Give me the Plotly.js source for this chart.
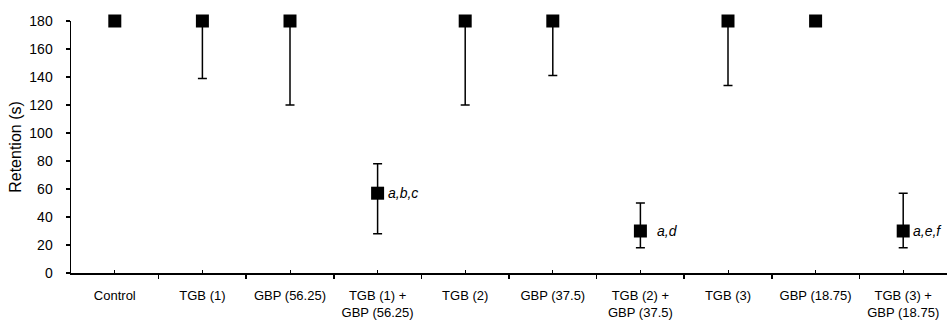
<!DOCTYPE html>
<html>
<head>
<meta charset="utf-8">
<script src="https://cdn.plot.ly/plotly-3.0.1.min.js"></script>
<style>html,body{margin:0;padding:0;background:#fff;}#chart{width:948px;height:322px;}</style>
</head>
<body>
<div id="chart"></div>
<script>
const categories = ["Control", "TGB (1)", "GBP (56.25)", "TGB (1) +<br>GBP (56.25)", "TGB (2)", "GBP (37.5)", "TGB (2) +<br>GBP (37.5)", "TGB (3)", "GBP (18.75)", "TGB (3) +<br>GBP (18.75)"];
const retention = [180, 180, 180, 57, 180, 180, 30, 180, 180, 30];
const errUpper  = [0, 0, 0, 21, 0, 0, 20, 0, 0, 27];
const errLower  = [0, 41, 60, 29, 60, 39, 12, 46, 0, 12];
const labels = [{i: 3, text: "a,b,c", shift: 8}, {i: 6, text: "a,d", shift: 15}, {i: 9, text: "a,e,f", shift: 8}];
const yTicks = [0, 20, 40, 60, 80, 100, 120, 140, 160, 180];

const xIdx = categories.map((c, i) => i);

const trace = {
  x: xIdx,
  y: retention,
  type: 'scatter',
  mode: 'markers',
  cliponaxis: false,
  marker: {symbol: 'square', size: 13, color: '#000'},
  error_y: {
    type: 'data', symmetric: false,
    array: errUpper, arrayminus: errLower,
    color: '#000', thickness: 1.5, width: 4.5, visible: true
  },
  hoverinfo: 'none'
};

const annotations = labels.map(l => ({
  x: l.i, y: retention[l.i], xref: 'x', yref: 'y',
  text: '<i>' + l.text + '</i>', showarrow: false,
  xanchor: 'left', yanchor: 'middle', xshift: l.shift,
  font: {family: 'Liberation Sans, Arial, sans-serif', size: 14, color: '#000'}
}));

const layout = {
  width: 948, height: 322,
  margin: {l: 71, r: 1, t: 21, b: 49},
  paper_bgcolor: '#fff', plot_bgcolor: '#fff',
  showlegend: false,
  font: {family: 'Liberation Sans, Arial, sans-serif', color: '#000'},
  xaxis: {
    range: [-0.5, 9.5], showgrid: false, zeroline: false,
    showline: true, linecolor: '#000', linewidth: 1.5,
    tickmode: 'array', tickvals: xIdx, ticktext: categories,
    ticks: 'inside', ticklen: 3, tickwidth: 1, tickcolor: '#000',
    ticklabelstandoff: 10,
    tickfont: {size: 13, color: '#000'},
    minor: {tickmode: 'linear', tick0: -0.5, dtick: 1, ticks: 'outside', ticklen: 4, tickwidth: 1.5, tickcolor: '#000', showgrid: false},
    fixedrange: true
  },
  yaxis: {
    range: [0, 180], showgrid: false, zeroline: false,
    showline: true, linecolor: '#000', linewidth: 1.5,
    tickmode: 'array', tickvals: yTicks,
    ticks: 'outside', ticklen: 4, tickwidth: 1.5, tickcolor: '#000',
    ticklabelstandoff: 10,
    tickfont: {size: 14, color: '#000'},
    title: {text: 'Retention (s)', font: {size: 16, color: '#000'}, standoff: 3},
    automargin: false,
    fixedrange: true
  },
  annotations: annotations
};

Plotly.newPlot('chart', [trace], layout, {displayModeBar: false, staticPlot: true});
</script>
</body>
</html>
